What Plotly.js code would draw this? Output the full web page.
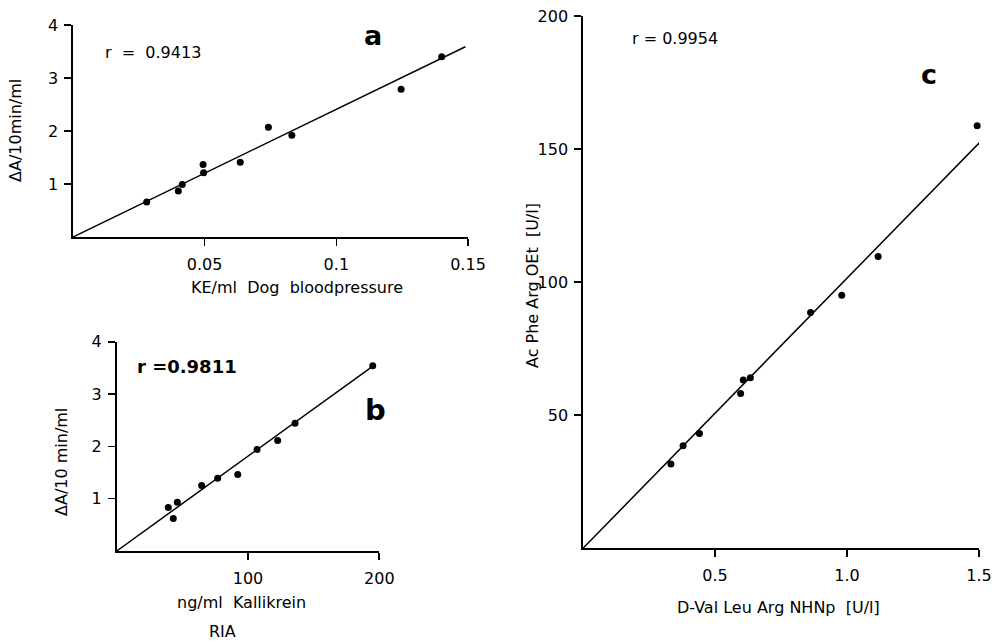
<!DOCTYPE html>
<html>
<head>
<meta charset="utf-8">
<script src="https://cdn.plot.ly/plotly-3.0.1.min.js"></script>
<style>html,body{margin:0;padding:0;background:#fff;}#chart{width:998px;height:641px;}</style>
</head>
<body>
<div id="chart"></div>
<script>
// Panel a: KE/ml dog blood pressure vs ΔA/10min/ml
const aX = [0.028, 0.040, 0.0415, 0.0494, 0.0496, 0.0635, 0.0742, 0.0831, 0.1246, 0.140];
const aY = [0.66, 0.87, 0.99, 1.37, 1.21, 1.41, 2.07, 1.92, 2.79, 3.40];
const aFitX = [0, 0.149];
const aFitY = [0, 3.59];
const aXTicks = [0.05, 0.1, 0.15];
const aXTickText = ["0.05", "0.1", "0.15"];
const aYTicks = [1, 2, 3, 4];

// Panel b: ng/ml Kallikrein (RIA) vs ΔA/10 min/ml
const bX = [39.3, 43.1, 46.2, 64.7, 76.9, 92.2, 106.9, 122.6, 135.8, 195];
const bY = [0.83, 0.62, 0.93, 1.25, 1.39, 1.46, 1.94, 2.11, 2.44, 3.54];
const bFitX = [0, 195.4];
const bFitY = [0, 3.54];
const bXTicks = [100, 200];
const bYTicks = [1, 2, 3, 4];

// Panel c: D-Val Leu Arg NHNp vs Ac Phe Arg OEt
const cX = [0.333, 0.379, 0.441, 0.597, 0.607, 0.634, 0.862, 0.98, 1.118, 1.493];
const cY = [31.7, 38.5, 43.1, 58.2, 63.2, 64.1, 88.6, 95.1, 109.6, 158.8];
const cFitX = [0, 1.546];
const cFitY = [0, 156.9];
const cXTicks = [0.5, 1.0, 1.5];
const cXTickText = ["0.5", "1.0", "1.5"];
const cYTicks = [50, 100, 150, 200];

const W = 998, H = 641;
const px = x => x / W;
const py = y => 1 - y / H;
const FONT = "DejaVu Sans, sans-serif";

const pts = (x, y, xa, ya) => ({x, y, xaxis: xa, yaxis: ya, type: 'scatter', mode: 'markers',
  marker: {color: '#000', size: 7}, cliponaxis: false, hoverinfo: 'skip'});
const fit = (x, y, xa, ya) => ({x, y, xaxis: xa, yaxis: ya, type: 'scatter', mode: 'lines',
  line: {color: '#000', width: 1.5}, cliponaxis: false, hoverinfo: 'skip'});

const data = [
  fit(aFitX, aFitY, 'x', 'y'), pts(aX, aY, 'x', 'y'),
  fit(bFitX, bFitY, 'x2', 'y2'), pts(bX, bY, 'x2', 'y2'),
  fit(cFitX, cFitY, 'x3', 'y3'), pts(cX, cY, 'x3', 'y3')
];

const axBase = {showgrid: false, zeroline: false, showline: true, linecolor: '#000', linewidth: 1.7,
  ticks: 'outside', ticklen: 7, tickwidth: 1.6, tickcolor: '#000', tickmode: 'array',
  tickfont: {family: FONT, size: 16, color: '#000'}, fixedrange: true};

const layout = {
  width: W, height: H, margin: {l: 0, r: 0, t: 0, b: 0},
  paper_bgcolor: '#fff', plot_bgcolor: 'rgba(0,0,0,0)', showlegend: false,
  font: {family: FONT, color: '#000'},
  xaxis: Object.assign({}, axBase, {domain: [px(73), px(468)], range: [0, 0.15], anchor: 'y',
    tickvals: aXTicks, ticktext: aXTickText, ticklabelstandoff: 5}),
  yaxis: Object.assign({}, axBase, {domain: [py(237), py(25)], range: [0, 4], anchor: 'x',
    tickvals: aYTicks, ticklabelstandoff: 3}),
  xaxis2: Object.assign({}, axBase, {domain: [px(116.7), px(379.3)], range: [0, 200], anchor: 'y2',
    tickvals: bXTicks, ticklabelstandoff: 5}),
  yaxis2: Object.assign({}, axBase, {domain: [py(551), py(341.7)], range: [0, 4], anchor: 'x2',
    tickvals: bYTicks, ticklabelstandoff: 3}),
  xaxis3: Object.assign({}, axBase, {domain: [px(583), px(979)], range: [0, 1.5], anchor: 'y3',
    tickvals: cXTicks, ticktext: cXTickText, ticklabelstandoff: 5}),
  yaxis3: Object.assign({}, axBase, {domain: [py(548.3), py(16)], range: [0, 200], anchor: 'x3',
    tickvals: cYTicks, ticklabelstandoff: 3}),
  annotations: [
    {text: 'r  =  0.9413', x: px(153), y: py(53), size: 16},
    {text: '<b>a</b>', x: px(373), y: py(36), size: 27},
    {text: '<b>r =0.9811</b>', x: px(187), y: py(366), size: 18},
    {text: '<b>b</b>', x: px(375), y: py(410), size: 29},
    {text: 'r = 0.9954', x: px(675), y: py(38), size: 16},
    {text: '<b>c</b>', x: px(929), y: py(75), size: 27},
    {text: 'KE/ml  Dog  bloodpressure', x: px(297), y: py(287), size: 16},
    {text: 'ΔA/10min/ml', x: px(15), y: py(131), size: 16, angle: -90},
    {text: 'ng/ml  Kallikrein', x: px(241), y: py(602), size: 16},
    {text: 'RIA', x: px(222), y: py(631), size: 16},
    {text: 'ΔA/10 min/ml', x: px(61), y: py(462), size: 16, angle: -90},
    {text: 'D-Val Leu Arg NHNp  [U/l]', x: px(778), y: py(607), size: 16},
    {text: 'Ac Phe Arg OEt  [U/l]', x: px(532), y: py(286), size: 16, angle: -90}
  ].map(a => ({text: a.text, x: a.x, y: a.y, xref: 'paper', yref: 'paper', showarrow: false,
    xanchor: 'center', yanchor: 'middle', textangle: a.angle || 0,
    font: {family: FONT, size: a.size, color: '#000'}}))
};

Plotly.newPlot('chart', data, layout, {displayModeBar: false, staticPlot: true});
</script>
</body>
</html>
